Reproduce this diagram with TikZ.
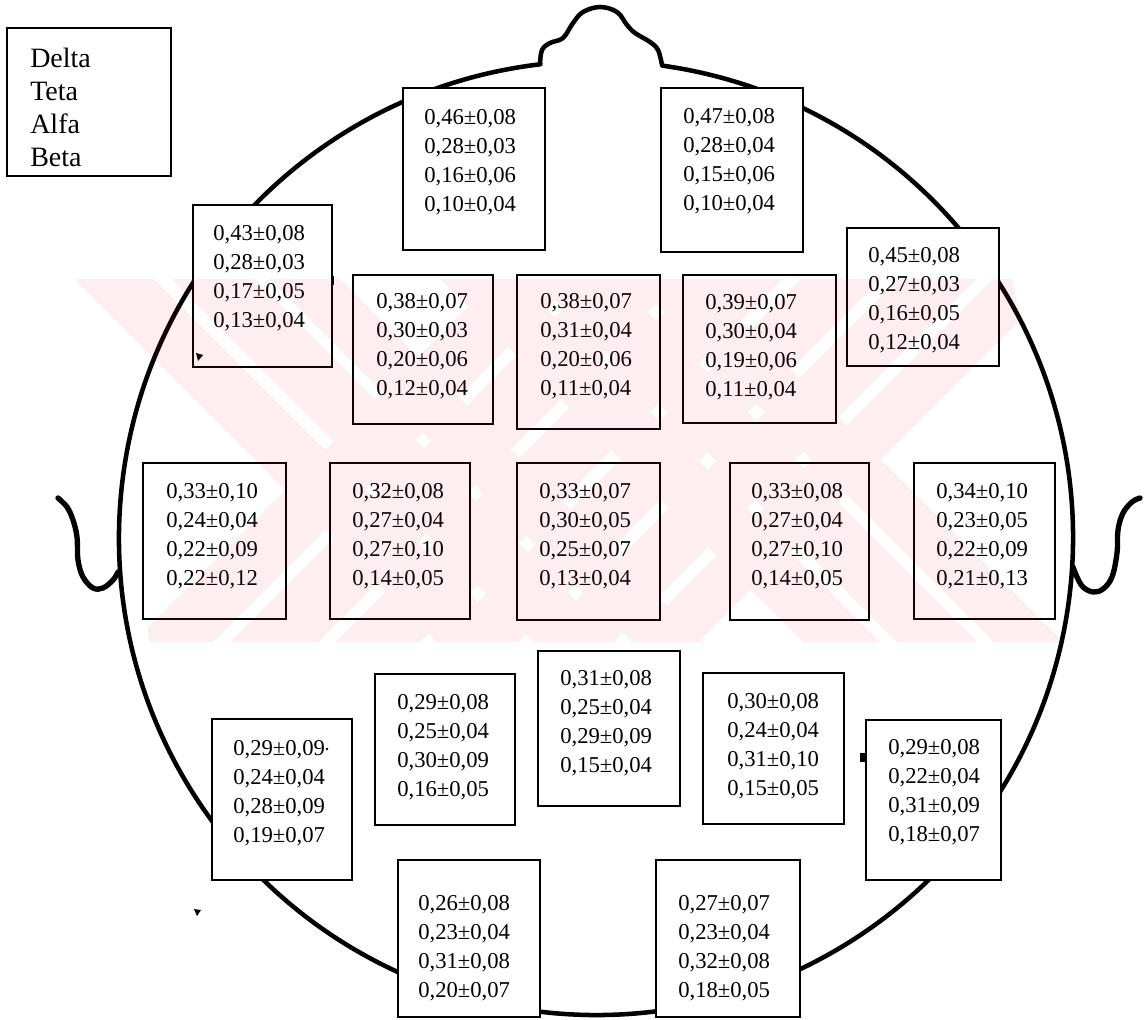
\documentclass[tikz,border=0pt]{standalone}
\usepackage{fontspec}
\setmainfont{Liberation Serif}
\usetikzlibrary{fit}
\newcommand\vbx[8]{%
  \node[valbox, fit={(#2,#3) (#4,#5)}] (#1) {};
  \node[vals] (#1t) at (#6,{#7-7.6}) {#8};}
\newcommand\wmbs[2]{({#1+279},279) -- ({#2+279},279) -- ({#2+642},642) -- ({#1+642},642) -- cycle}
\newcommand\wmfs[2]{({#1-279},279) -- ({#2-279},279) -- ({#2-642},642) -- ({#1-642},642) -- cycle}
\begin{document}
\begin{tikzpicture}[x=0.75pt,y=-0.75pt]
\tikzset{
  headline/.style={line width=3.4pt, line join=round, line cap=round},
  earline/.style={line width=4pt, line cap=round, line join=round},
  valbox/.style={draw, line width=1.2pt, fill=white, rectangle, inner sep=0pt},
  vals/.style={font=\fontsize{17}{21.75}\selectfont, align=left, anchor=north west, inner sep=0pt},
  legtext/.style={font=\fontsize{21}{24.75}\selectfont, align=left, anchor=north west, inner sep=0pt},
  wm/.style={fill={rgb,255:red,230;green,30;blue,70}, fill opacity=0.075},
}
\useasboundingbox (0,0) rectangle (1147,1020);
\fill[white] (0,0) rectangle (1147,1020);

% head outline
\coordinate (c) at (596,538);
\draw[headline] (c) ++(-82:477) arc[start angle=-82, end angle=263.3, radius=477];
\draw[headline] plot[smooth, tension=0.6] coordinates {(540,64) (542,50) (550,43) (563,38) (573,23) (583,12) (600,7) (617,12) (627,25) (635,33) (650,42) (658,50) (662,65)};
% ears
\draw[earline] plot[smooth, tension=0.6] coordinates {(58,498) (67,507) (73,520) (77,537) (78,560) (83,577) (93,588) (103,588) (113,580) (118,572)};
\draw[earline] plot[smooth, tension=0.6] coordinates {(1140,498) (1132,502) (1123,513) (1118,530) (1117,553) (1112,577) (1103,589) (1093,592) (1083,587) (1077,577) (1073,567)};

% legend
\node[valbox, fit={(7,28) (171,176)}] (leg) {};
\node[legtext] (legt) at (30,48) {Delta\\Teta\\Alfa\\Beta};

% value boxes
\vbx{b46}{403}{88}{545}{250}{424}{117}{0,46±0,08\\0,28±0,03\\0,16±0,06\\0,10±0,04}
\vbx{b47}{661}{88}{803}{252}{683}{116}{0,47±0,08\\0,28±0,04\\0,15±0,06\\0,10±0,04}
\vbx{b43}{193}{205}{332}{367}{213}{233}{0,43±0,08\\0,28±0,03\\0,17±0,05\\0,13±0,04}
\vbx{b45}{847}{228}{999}{366}{868}{255}{0,45±0,08\\0,27±0,03\\0,16±0,05\\0,12±0,04}
\vbx{b38a}{353}{275}{493}{424}{376}{301}{0,38±0,07\\0,30±0,03\\0,20±0,06\\0,12±0,04}
\vbx{b38b}{517}{275}{660}{429}{540}{301}{0,38±0,07\\0,31±0,04\\0,20±0,06\\0,11±0,04}
\vbx{b39}{683}{275}{836}{423}{705}{302}{0,39±0,07\\0,30±0,04\\0,19±0,06\\0,11±0,04}
\vbx{b33a}{143}{463}{286}{619}{166}{491}{0,33±0,10\\0,24±0,04\\0,22±0,09\\0,22±0,12}
\vbx{b32}{330}{463}{470}{619}{352}{491}{0,32±0,08\\0,27±0,04\\0,27±0,10\\0,14±0,05}
\vbx{b33b}{517}{463}{660}{620}{539}{491}{0,33±0,07\\0,30±0,05\\0,25±0,07\\0,13±0,04}
\vbx{b33c}{730}{463}{869}{620}{751}{491}{0,33±0,08\\0,27±0,04\\0,27±0,10\\0,14±0,05}
\vbx{b34}{914}{463}{1055}{619}{936}{491}{0,34±0,10\\0,23±0,05\\0,22±0,09\\0,21±0,13}
\vbx{b31}{538}{651}{680}{806}{560}{678}{0,31±0,08\\0,25±0,04\\0,29±0,09\\0,15±0,04}
\vbx{b29a}{375}{674}{515}{825}{397}{702}{0,29±0,08\\0,25±0,04\\0,30±0,09\\0,16±0,05}
\vbx{b30}{703}{673}{844}{824}{727}{701}{0,30±0,08\\0,24±0,04\\0,31±0,10\\0,15±0,05}
\vbx{b29b}{212}{719}{352}{880}{233}{748}{0,29±0,09\\0,24±0,04\\0,28±0,09\\0,19±0,07}
\vbx{b29c}{866}{720}{1001}{880}{888}{747}{0,29±0,08\\0,22±0,04\\0,31±0,09\\0,18±0,07}
\vbx{b26}{398}{860}{540}{1017}{418}{903}{0,26±0,08\\0,23±0,04\\0,31±0,08\\0,20±0,07}
\vbx{b27}{656}{860}{800}{1017}{678}{903}{0,27±0,07\\0,23±0,04\\0,32±0,08\\0,18±0,05}

% small specks of the scan
\fill (330.5,276) rectangle (333.5,285);
\fill (196,353) -- (203,355) -- (198,361) -- cycle;
\fill (860,753) rectangle (866,762);
\fill (194,909) -- (201,910) -- (197,916) -- cycle;
\fill (327,749) circle[radius=1pt];

% faint watermark
\begin{scope}
\clip (74,279) -- (1012,279) -- (1088,642) -- (150,642) -- cycle;
\fill[wm] \wmbs{-205}{-125} \wmbs{-108}{-25} \wmbs{-10}{61}
  \wmfs{775}{855} \wmfs{872}{960} \wmfs{977}{1062}
  \wmbs{161}{238} \wmbs{255}{335} \wmbs{352}{421}
  \wmfs{1080}{1160} \wmfs{1177}{1255} \wmfs{1272}{1340};
\end{scope}
\end{tikzpicture}
\end{document}
